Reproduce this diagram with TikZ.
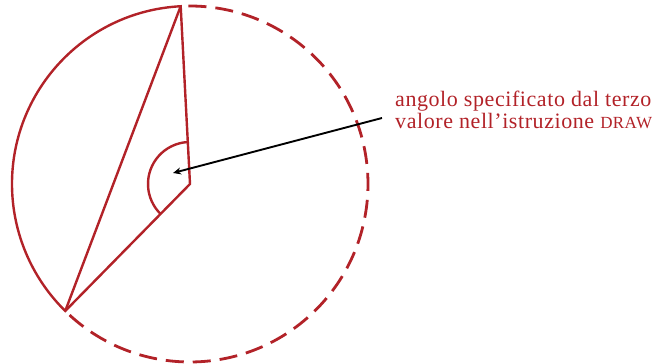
\documentclass[tikz,border=0pt]{standalone}
\usepackage{fontspec}
\setmainfont{Liberation Serif}[LetterSpace=2.6]
\usetikzlibrary{calc,arrows.meta}
\definecolor{dred}{RGB}{178,34,40}
\begin{document}
\begin{tikzpicture}[x=1pt,y=1pt,
  redline/.style={draw=dred,line width=2.4pt,line join=miter},
  dashline/.style={draw=dred,line width=2.8pt,dash pattern=on 18pt off 9pt,dash phase=21pt},
  lbl/.style={inner sep=0pt,text=dred,font=\fontsize{22}{22}\selectfont},
  pointer/.style={draw=black,line width=1.9pt,-{Stealth[length=8pt,width=7pt,inset=2.5pt]}}]
\useasboundingbox (0,0) rectangle (662,364);
\coordinate (C) at (190,180);
\coordinate (P1) at ($(C)+(93:178)$);
\coordinate (P2) at ($(C)+(225.5:178)$);
\coordinate (A1) at ($(C)+(93:42)$);
\coordinate (start) at (382,246);
\coordinate (tip) at (173,191);
\draw[redline] (C) -- (P1) arc[start angle=93,end angle=225.5,radius=178pt] -- cycle;
\draw[redline] (P1) -- (P2);
\draw[dashline] (P2) arc[start angle=225.5,end angle=453,radius=178pt];
\draw[redline] (A1) arc[start angle=93,end angle=225.5,radius=42pt];
\node[lbl,anchor=base west] (l1) at (395,257) {angolo specificato dal terzo};
\node[lbl,anchor=base west] (l2) at (395,235) {valore nell’istruzione {\fontsize{17}{17}\selectfont DRAW}};
\draw[pointer] (start) -- (tip);
\end{tikzpicture}
\end{document}
